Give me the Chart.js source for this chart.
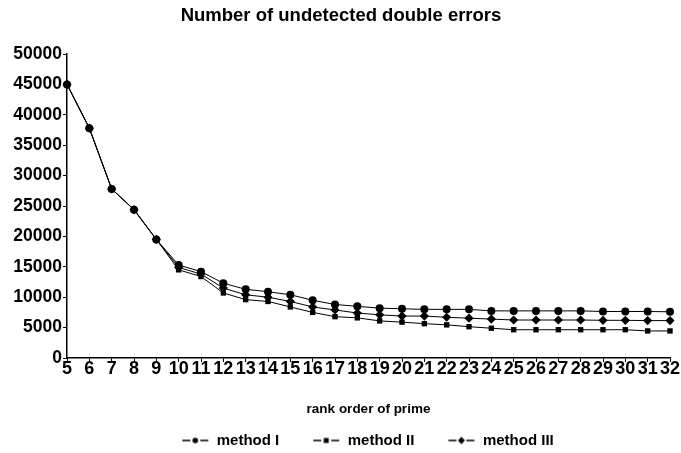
<!DOCTYPE html>
<html>
<head>
<meta charset="utf-8">
<script src="https://cdn.jsdelivr.net/npm/chart.js@4"></script>
<style>
html,body{margin:0;padding:0;background:#fff;}
#wrap{width:681px;height:453px;position:relative;}
</style>
</head>
<body>
<div id="wrap"><canvas id="c" width="681" height="453"></canvas></div>
<script>
const categories = ['5','6','7','8','9','10','11','12','13','14','15','16','17','18','19','20','21','22','23','24','25','26','27','28','29','30','31','32'];
const methodI   = [45000,37800,27800,24400,19500,15300,14200,12300,11300,10900,10400,9500,8800,8500,8200,8100,8000,8000,8000,7750,7750,7750,7750,7750,7650,7650,7650,7600];
const methodII  = [45000,37800,27800,24400,19500,14500,13400,10700,9600,9300,8400,7500,6800,6600,6100,5900,5650,5450,5150,4900,4650,4650,4650,4650,4650,4650,4450,4450];
const methodIII = [45000,37800,27800,24400,19500,14900,13800,11500,10400,10000,9300,8400,7900,7400,7100,6900,6900,6700,6550,6400,6250,6250,6250,6250,6200,6200,6150,6150];
const seriesNames = ['method I','method II','method III'];
const yTicks = [0,5000,10000,15000,20000,25000,30000,35000,40000,45000,50000];

const FONT = '"Liberation Sans", Arial, sans-serif';
const ICON_MARGIN = 29;

function legendIcon(style){
  const cv = document.createElement('canvas');
  cv.width = 28 + ICON_MARGIN; cv.height = 12;
  const g = cv.getContext('2d');
  const o = ICON_MARGIN;
  g.strokeStyle = '#000'; g.fillStyle = '#000'; g.lineWidth = 1.4;
  g.beginPath(); g.moveTo(o+1,6); g.lineTo(o+9,6); g.moveTo(o+19,6); g.lineTo(o+27,6); g.stroke();
  g.beginPath();
  if(style==='circle'){ g.arc(o+14,6,2.8,0,Math.PI*2); }
  else if(style==='rect'){ g.rect(o+11.5,3.5,5,5); }
  else { g.moveTo(o+14,2.3); g.lineTo(o+17.5,6); g.lineTo(o+14,9.7); g.lineTo(o+10.5,6); g.closePath(); }
  g.fill();
  return cv;
}

const styles = ['circle','rect','rectRot'];
const radii = [4,3.8,4.6];
const dataArrays = [methodI, methodII, methodIII];

const datasets = dataArrays.map((d,i)=>({
  label: seriesNames[i],
  data: d,
  borderColor:'#000',
  backgroundColor:'#000',
  borderWidth:1,
  pointStyle: styles[i],
  pointRadius: radii[i],
  pointBorderWidth:0,
  pointBackgroundColor:'#000',
  tension:0,
  fill:false
}));

const shiftBlocks = {
  id:'shiftBlocks',
  afterLayout(chart){
    const l = chart.legend;
    if(l){ l.left += 18; l.right += 18; l.top += 5; l.bottom += 5; }
    const t = chart.titleBlock;
    if(t){ t.left += 6; t.right += 6; }
  }
};

new Chart(document.getElementById('c'), {
  type:'line',
  data:{labels:categories, datasets},
  plugins:[shiftBlocks],
  options:{
    responsive:false,
    animation:false,
    devicePixelRatio:1,
    layout:{padding:{left:0,right:11,top:0,bottom:0}},
    plugins:{
      title:{display:true,text:'Number of undetected double errors',color:'#000',
        font:{family:FONT,size:18.5,weight:'bold',lineHeight:1.2},padding:{top:5,bottom:26.8}},
      legend:{position:'bottom',
        labels:{color:'#000',font:{family:FONT,size:15,weight:'bold'},usePointStyle:true,
          pointStyleWidth:28+ICON_MARGIN,boxHeight:12,padding:4,
          generateLabels:(chart)=>chart.data.datasets.map((ds,i)=>({
            text:ds.label,pointStyle:legendIcon(styles[i]),fillStyle:'#000',strokeStyle:'#000',
            lineWidth:0,hidden:false,datasetIndex:i,fontColor:'#000'}))
        }},
      tooltip:{enabled:false}
    },
    scales:{
      x:{
        offset:false,
        grid:{display:true,drawOnChartArea:false,color:'#000',tickLength:4,tickColor:'#000'},
        border:{display:true,color:'#000',width:1.5},
        ticks:{color:'#000',font:{family:FONT,size:18,weight:'bold',lineHeight:1},autoSkip:false,maxRotation:0,minRotation:0,padding:-2},
        title:{display:true,text:'rank order of prime',color:'#000',font:{family:FONT,size:13.5,weight:'bold',lineHeight:1.2},padding:{top:25,bottom:6.8}}
      },
      y:{
        min:0,max:50000,
        afterBuildTicks:(ax)=>{ax.ticks = yTicks.map(v=>({value:v}));},
        afterFit:(ax)=>{ax.width = 67;},
        grid:{display:true,drawOnChartArea:false,color:'#000',tickLength:4,tickColor:'#000'},
        border:{display:true,color:'#000',width:1.5},
        ticks:{color:'#000',font:{family:FONT,size:17.5,weight:'bold'},padding:1,callback:(v)=>String(v)}
      }
    }
  }
});
</script>
</body>
</html>
